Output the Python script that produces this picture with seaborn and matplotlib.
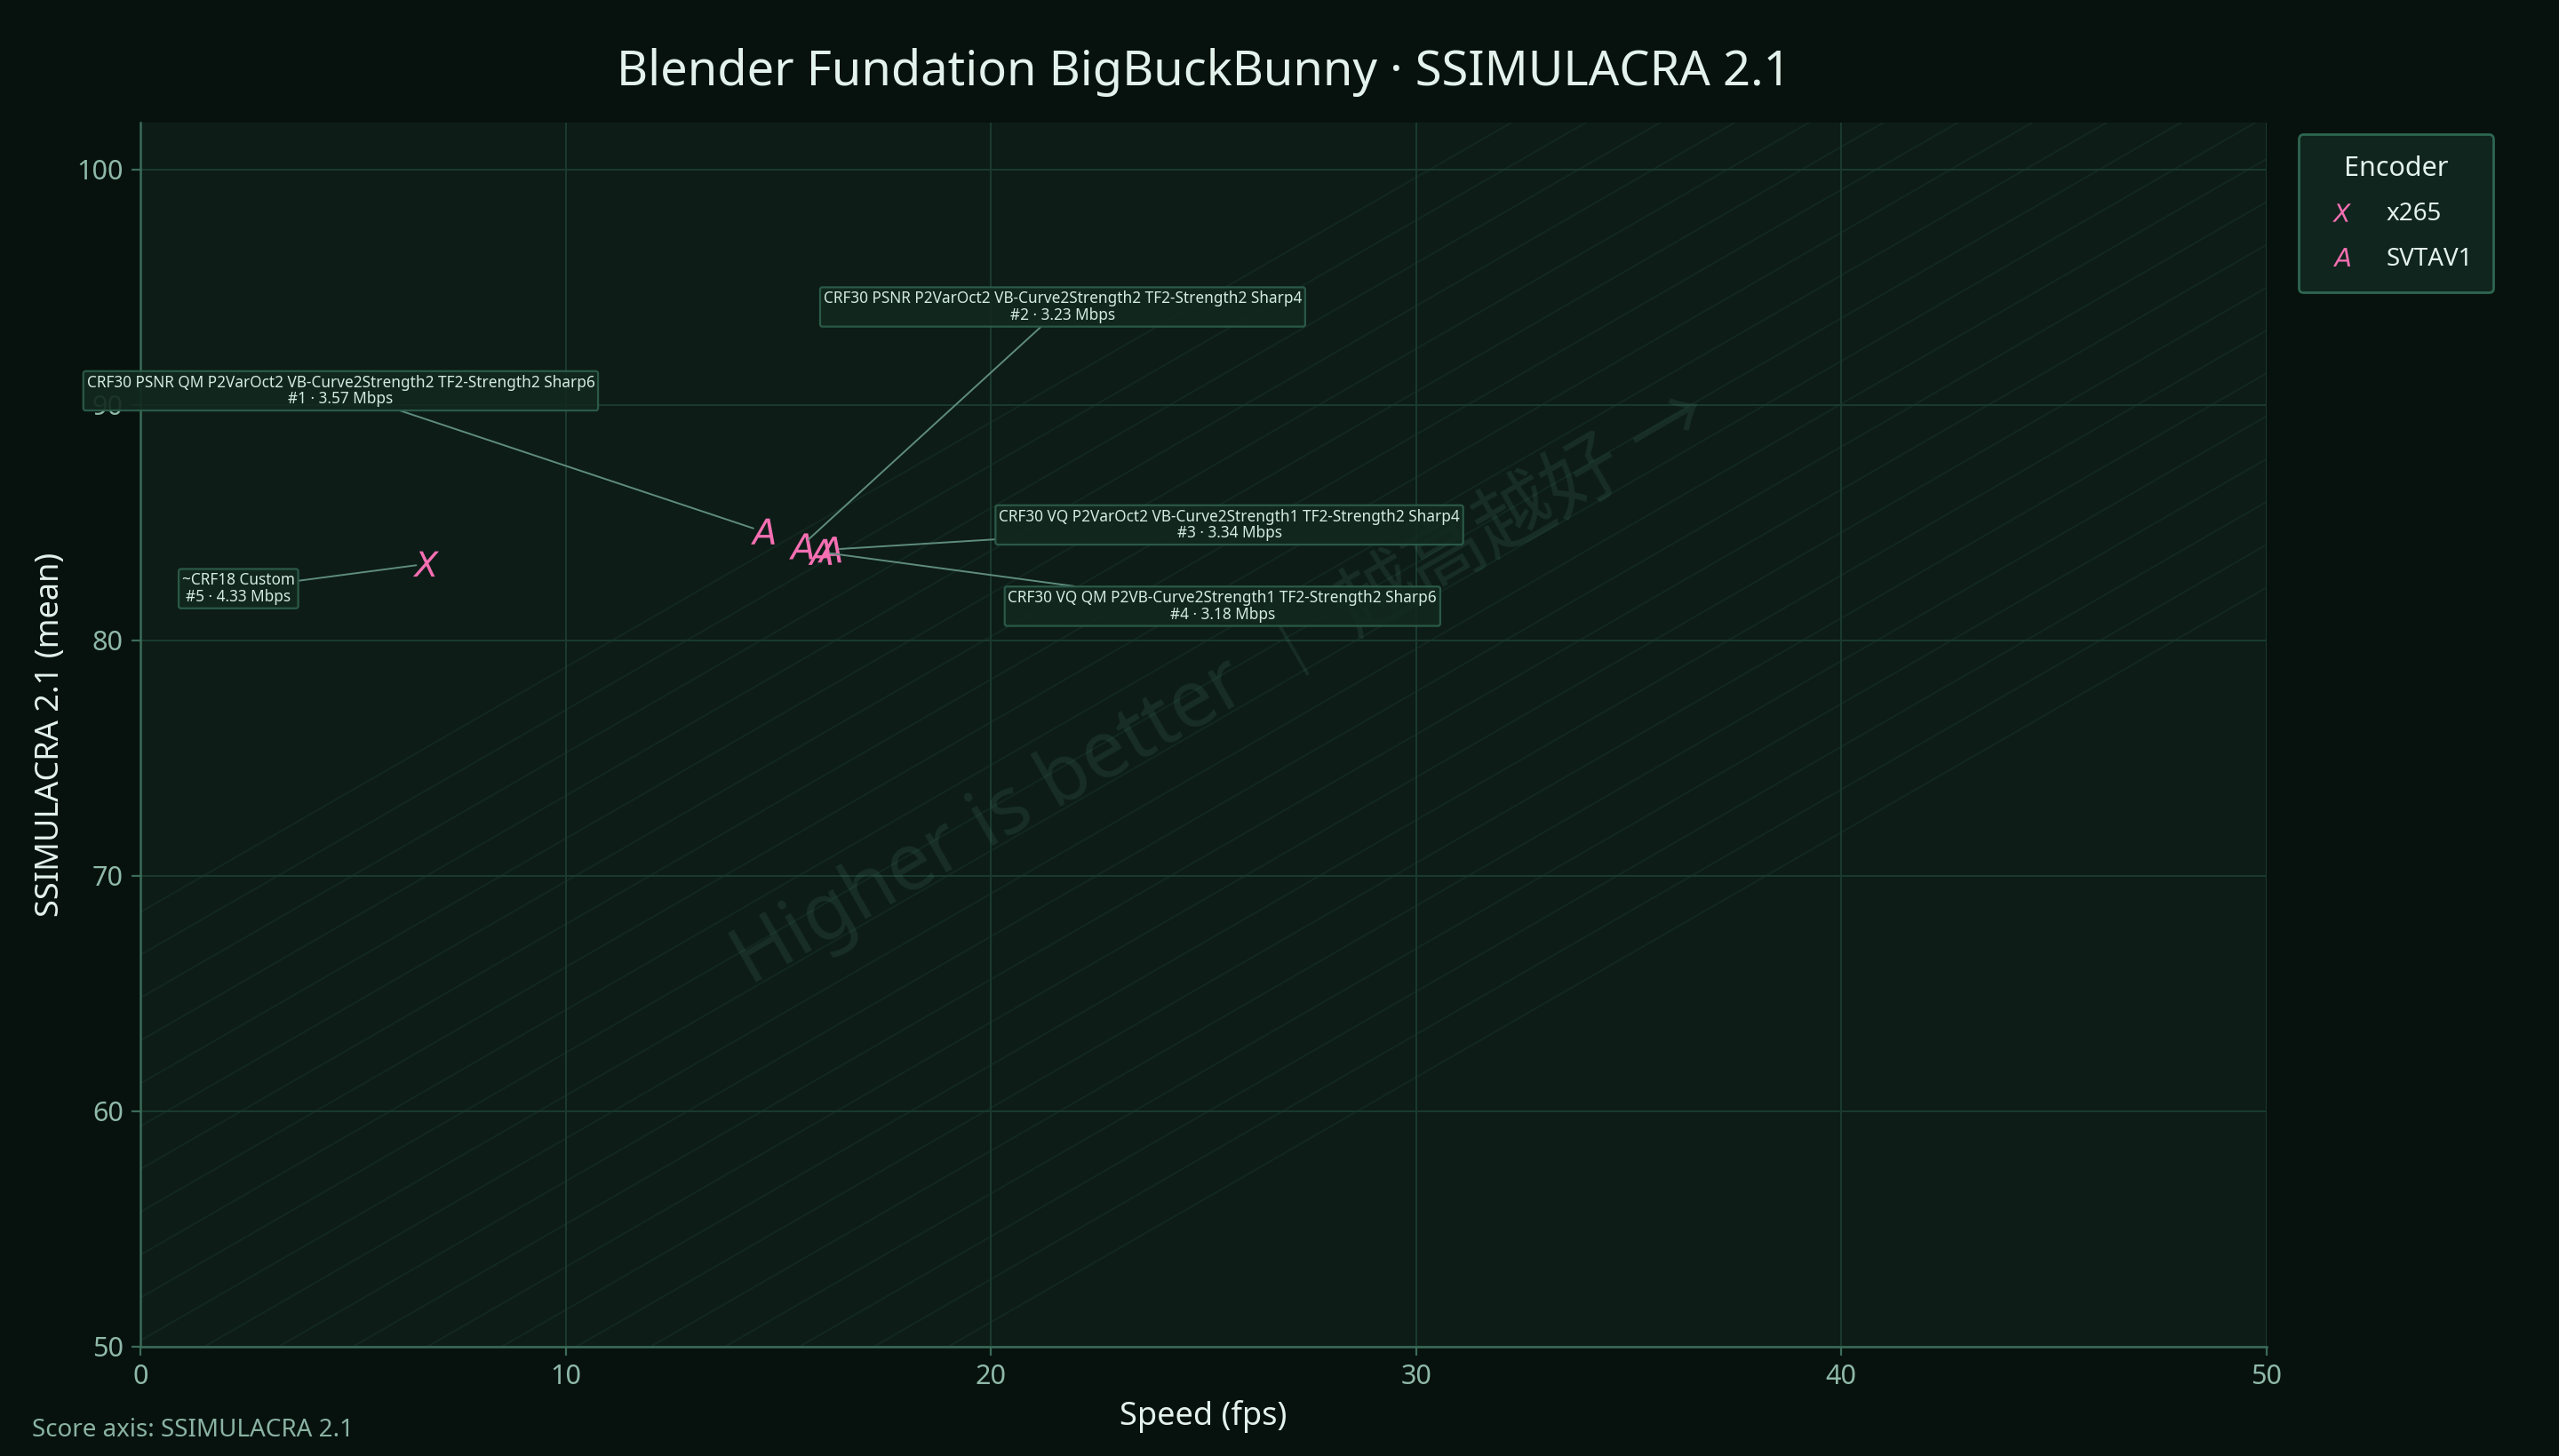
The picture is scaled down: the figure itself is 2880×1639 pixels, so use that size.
import numpy as np
import pandas as pd
import seaborn as sns
import matplotlib.pyplot as plt
from matplotlib.lines import Line2D

# ---- Data ----
encoders = ["SVTAV1", "SVTAV1", "SVTAV1", "SVTAV1", "x265"]
configs = [
    "CRF30 PSNR QM P2VarOct2 VB-Curve2Strength2 TF2-Strength2 Sharp6",
    "CRF30 PSNR P2VarOct2 VB-Curve2Strength2 TF2-Strength2 Sharp4",
    "CRF30 VQ P2VarOct2 VB-Curve2Strength1 TF2-Strength2 Sharp4",
    "CRF30 VQ QM P2VB-Curve2Strength1 TF2-Strength2 Sharp6",
    "~CRF18 Custom",
]
ranks = [1, 2, 3, 4, 5]
bitrates = [3.57, 3.23, 3.34, 3.18, 4.33]
speed_fps = [14.63, 15.53, 16.20, 15.98, 6.71]
ssimulacra = [84.62, 83.99, 83.85, 83.75, 83.24]

# label offsets in points (layout only)
label_dx = [-171, 106, 162, 163, -76]
label_dy = [57, 97, 10, -22, -10]

legend_order = ["x265", "SVTAV1"]
marker_map = {"x265": "$X$", "SVTAV1": "$A$"}

# ---- Colours ----
BG = "#07120e"
PANEL = "#0d1c17"
GRID = "#1b3a30"
SPINE = "#3b6b59"
TEXT = "#e3f2ec"
TICK = "#8fb9a9"
PINK = "#f56fb2"

sns.set_theme(style="darkgrid")
plt.rcParams["font.family"] = ["Noto Sans", "DejaVu Sans"]
plt.rcParams["mathtext.fontset"] = "dejavusans"

df = pd.DataFrame({
    "encoder": encoders,
    "config": configs,
    "rank": ranks,
    "mbps": bitrates,
    "speed": speed_fps,
    "score": ssimulacra,
})

fig = plt.figure(figsize=(14.4, 8.195), dpi=200, facecolor=BG)
ax = fig.add_axes([0.055, 0.0752, 0.8307, 0.8408])
ax.set_facecolor(PANEL)

# faint diagonal hatch band
for c in np.arange(-0.38, 0.36, 0.035):
    ax.plot([0, 1], [c, 1 + c], transform=ax.transAxes, color="#3d7d65",
            alpha=0.12, lw=0.7, zorder=0.5)

# watermark
ax.text(0.508, 0.54, "Higher is better ｜ 越高越好 →", transform=ax.transAxes,
        rotation=30, ha="center", va="center", fontsize=32, color="#5fa88a",
        alpha=0.13, family=["Noto Sans", "Noto Sans CJK SC", "DejaVu Sans"], zorder=0.6)

sns.scatterplot(data=df, x="speed", y="score", style="encoder", markers=marker_map,
                color=PINK, s=110, linewidth=0, legend=False, ax=ax, zorder=5)

for x, y, cfg, r, b, dx, dy in zip(speed_fps, ssimulacra, configs, ranks, bitrates, label_dx, label_dy):
    ax.annotate(f"{cfg}\n#{r} · {b:.2f} Mbps", xy=(x, y), xytext=(dx, dy),
                textcoords="offset points", ha="center", va="center",
                fontsize=6.2, color="#d4ebe1", linespacing=1.05,
                bbox=dict(boxstyle="round,pad=0.22,rounding_size=0.15", fc="#12291f",
                          ec="#2d5e4c", lw=0.8, alpha=0.92),
                arrowprops=dict(arrowstyle="-", color="#5f8c7e", lw=0.7, shrinkA=0, shrinkB=4),
                zorder=6)

ax.set_xlim(0, 50)
ax.set_ylim(50, 102)
ax.set_xticks(range(0, 51, 10))
ax.set_yticks(range(50, 101, 10))
ax.grid(True, color=GRID, lw=0.7)
ax.set_axisbelow(True)
for side in ["top", "right"]:
    ax.spines[side].set_visible(False)
for side in ["left", "bottom"]:
    ax.spines[side].set_visible(True)
    ax.spines[side].set_color(SPINE)
    ax.spines[side].set_linewidth(0.9)
ax.tick_params(axis="both", bottom=True, left=True, direction="out", length=3.5,
               width=0.8, color=SPINE, labelcolor=TICK, labelsize=11)

ax.set_xlabel("Speed (fps)", fontsize=13, color=TEXT)
ax.set_ylabel("SSIMULACRA 2.1 (mean)", fontsize=13, color=TEXT)
ax.set_title("Blender Fundation BigBuckBunny · SSIMULACRA 2.1", fontsize=19.5, color=TEXT, pad=15)

handles = [Line2D([], [], marker=marker_map[e], ls="none", color=PINK, markersize=7.5, mew=0)
           for e in legend_order]
leg = ax.legend(handles, legend_order, title="Encoder", loc="upper left",
                bbox_to_anchor=(1.015, 0.99), borderaxespad=0, frameon=True,
                fontsize=10, title_fontsize=11, facecolor="#10251e", edgecolor="#2e6651",
                labelcolor=TEXT, handlelength=1.8, handletextpad=0.9, labelspacing=0.8,
                borderpad=0.85)
leg.get_title().set_color(TEXT)
leg.get_frame().set_linewidth(1.0)
leg.get_frame().set_alpha(1)

fig.text(0.0124, 0.0177, "Score axis: SSIMULACRA 2.1", fontsize=10, color="#8ab3a3",
         ha="left", va="center")

fig.savefig("out.png", dpi=200, facecolor=BG)
